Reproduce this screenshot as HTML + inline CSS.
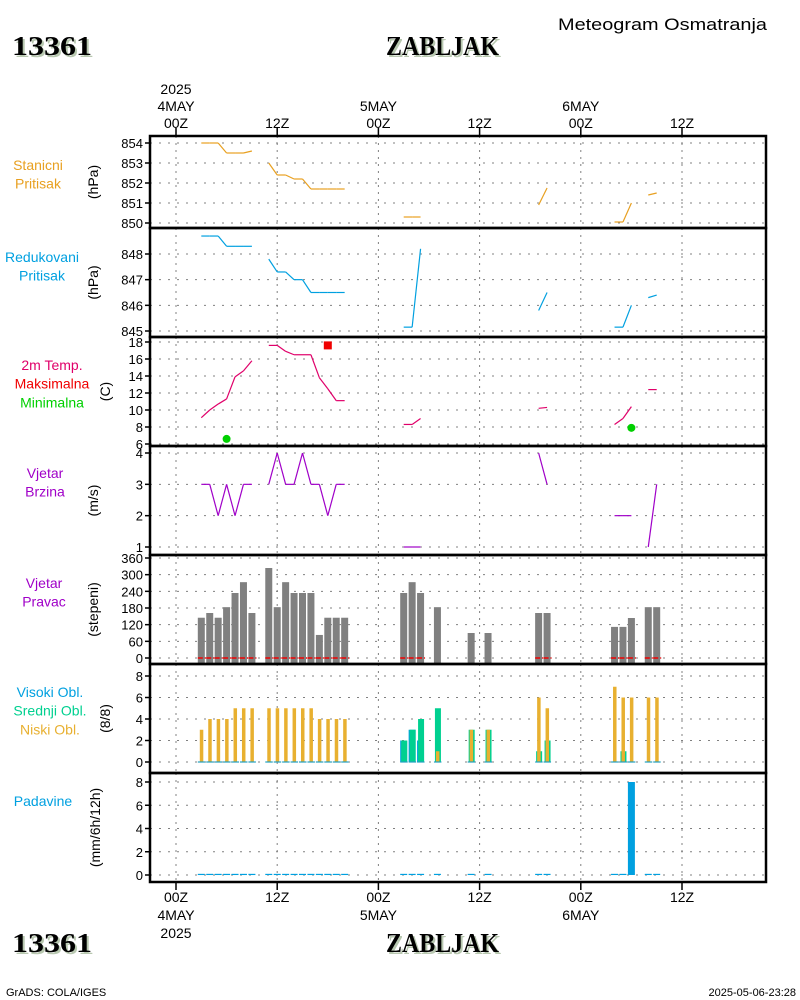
<!DOCTYPE html>
<html><head><meta charset="utf-8"><style>
body{margin:0;background:#fff;}
svg{display:block;font-family:"Liberation Sans",sans-serif;}
</style></head><body>
<svg id="chart" width="800" height="1000" viewBox="0 0 800 1000" xmlns="http://www.w3.org/2000/svg">
<g id="static">
<text x="14" y="57" font-family="Liberation Serif" font-weight="bold" font-size="27" fill="#b8c8b0" textLength="80" lengthAdjust="spacingAndGlyphs">13361</text>
<text x="12" y="55" font-family="Liberation Serif" font-weight="bold" font-size="27" fill="#000" textLength="80" lengthAdjust="spacingAndGlyphs">13361</text>
<text x="388" y="57" font-family="Liberation Serif" font-weight="bold" font-size="27" fill="#b8c8b0" textLength="113" lengthAdjust="spacingAndGlyphs">ZABLJAK</text>
<text x="386" y="55" font-family="Liberation Serif" font-weight="bold" font-size="27" fill="#000" textLength="113" lengthAdjust="spacingAndGlyphs">ZABLJAK</text>
<text x="558" y="30" font-size="17" fill="#000" textLength="209" lengthAdjust="spacingAndGlyphs">Meteogram Osmatranja</text>
<text x="14" y="954" font-family="Liberation Serif" font-weight="bold" font-size="27" fill="#b8c8b0" textLength="80" lengthAdjust="spacingAndGlyphs">13361</text>
<text x="12" y="952" font-family="Liberation Serif" font-weight="bold" font-size="27" fill="#000" textLength="80" lengthAdjust="spacingAndGlyphs">13361</text>
<text x="388" y="954" font-family="Liberation Serif" font-weight="bold" font-size="27" fill="#b8c8b0" textLength="113" lengthAdjust="spacingAndGlyphs">ZABLJAK</text>
<text x="386" y="952" font-family="Liberation Serif" font-weight="bold" font-size="27" fill="#000" textLength="113" lengthAdjust="spacingAndGlyphs">ZABLJAK</text>
<text x="6" y="996" font-size="11" fill="#000">GrADS: COLA/IGES</text>
<text x="796" y="996" text-anchor="end" font-size="11" fill="#000">2025-05-06-23:28</text>
</g>
<g id="plot"></g>
</svg>
<script>
const hours=[3,4,5,6,7,8,9,11,12,13,14,15,16,17,18,19,20,27,28,29,31,35,37,43,44,52,53,54,56,57];
const N=null;
const stationP=[854,854,854,853.5,853.5,853.5,853.6,853,852.4,852.4,852.2,852.2,851.7,851.7,851.7,851.7,851.7,850.3,850.3,850.3,N,N,N,850.9,851.75,850.05,850.05,851,851.4,851.5];
const reducedP=[848.7,848.7,848.7,848.3,848.3,848.3,848.3,847.8,847.3,847.3,847.0,847.0,846.5,846.5,846.5,846.5,846.5,845.15,845.15,848.2,N,N,N,845.8,846.5,845.15,845.15,846,846.3,846.4];
const temp=[9.1,10.0,10.7,11.3,13.9,14.6,15.8,17.6,17.6,16.9,16.5,16.5,16.5,13.8,12.5,11.1,11.1,8.3,8.3,9.0,N,N,N,10.2,10.3,8.3,9.0,10.4,12.4,12.4];
const tmaxHours=[18];const tmaxVals=[17.6];
const tminHours=[6,54];const tminVals=[6.6,7.9];
const windSpd=[3,3,2,3,2,3,3,3,4,3,3,4,3,3,2,3,3,1,1,1,N,N,N,4,3,2,2,2,1,3];
const windDir=[145,162,145,183,234,273,162,324,183,273,234,234,234,83,145,145,145,234,273,234,183,90,90,162,162,112,112,144,183,183];
const lowCl=[3,4,4,4,5,5,5,5,5,5,5,5,5,4,4,4,4,0,0,0,1,3,3,6,5,7,6,6,6,6];
const midCl=[0,0,0,0,0,0,0,0,0,0,0,0,0,0,0,0,0,2,3,4,5,3,3,1,2,0,1,0,0,0];
const highCl=[0,0,0,0,0,0,0,0,0,0,0,0,0,0,0,0,0,2,3,2,0,0,0,0,0,0,0,0,0,0];
const precip=[0.1,0.1,0.1,0.1,0.1,0.1,0.1,0.1,0.1,0.1,0.1,0.1,0.1,0.1,0.1,0.1,0.1,0.1,0.1,0.1,0.1,0.1,0.1,0.1,0.1,0.1,0.1,8,0.1,0.1];
const timeTicks=[0,12,24,36,48,60];
const timeLabels=["00Z","12Z","00Z","12Z","00Z","12Z"];
const dayLabels=["4MAY","","5MAY","","6MAY",""];

const SVGNS="http://www.w3.org/2000/svg";
const plot=document.getElementById('plot');
const X0=150,X1=766;
function xs(h){return 176+h*(101.2/12);}
function mk(tag,at,parent){const e=document.createElementNS(SVGNS,tag);for(const k in at)e.setAttribute(k,at[k]);(parent||plot).appendChild(e);return e;}
function txt(s,at){const e=mk('text',at);e.textContent=s;return e;}

const panels=[
 {name:'station-pressure',top:136,bot:228,v0:850,y0:223,v1:854,y1:143,ticks:[850,851,852,853,854],unit:'(hPa)',ux:98,lx:38,ly:170,labels:[['Stanicni','#e8a020'],['Pritisak','#e8a020']]},
 {name:'reduced-pressure',top:228,bot:337,v0:845,y0:331,v1:848,y1:254,ticks:[845,846,847,848],unit:'(hPa)',ux:98,lx:42,ly:262,labels:[['Redukovani','#00a0e0'],['Pritisak','#00a0e0']]},
 {name:'temperature',top:337,bot:446,v0:6,y0:444,v1:18,y1:342,ticks:[6,8,10,12,14,16,18],unit:'(C)',ux:110,lx:52,ly:370,labels:[['2m Temp.','#e0006a'],['Maksimalna','#f00000'],['Minimalna','#00d000']]},
 {name:'wind-speed',top:446,bot:555,v0:1,y0:547,v1:4,y1:453,ticks:[1,2,3,4],unit:'(m/s)',ux:98,lx:45,ly:478,labels:[['Vjetar','#a000c8'],['Brzina','#a000c8']]},
 {name:'wind-direction',top:555,bot:664,v0:0,y0:658,v1:360,y1:558,ticks:[0,60,120,180,240,300,360],unit:'(stepeni)',ux:98,lx:44,ly:588,labels:[['Vjetar','#a000c8'],['Pravac','#a000c8']]},
 {name:'cloud-cover',top:664,bot:773,v0:0,y0:762,v1:8,y1:676,ticks:[0,2,4,6,8],unit:'(8/8)',ux:110,lx:50,ly:697,labels:[['Visoki Obl.','#00a0e0'],['Srednji Obl.','#00d090'],['Niski Obl.','#e8b030']]},
 {name:'precipitation',top:773,bot:882,v0:0,y0:875,v1:8,y1:782,ticks:[0,2,4,6,8],unit:'(mm/6h/12h)',ux:100,lx:43,ly:806,labels:[['Padavine','#00a0e0']]}
];
panels.forEach(p=>{p.ys=v=>p.y0+(v-p.v0)*(p.y1-p.y0)/(p.v1-p.v0);});

panels.forEach((p,i)=>{
  const g=mk('g',{});
  
  
  timeTicks.forEach(t=>{const l=mk('line',{x1:xs(t),x2:xs(t),y1:p.top,y2:p.bot,stroke:'#808080','stroke-width':1,'stroke-dasharray':'2,5'},g);});
  p.ticks.forEach(v=>{const y=p.ys(v);
    const l=mk('line',{x1:X0,x2:X1,y1:y,y2:y,stroke:'#808080','stroke-width':1,'stroke-dasharray':'2,7'},g);
    mk('line',{x1:X0-5,x2:X0,y1:y,y2:y,stroke:'#000','stroke-width':1.5},g);
    const t=txt(String(v),{x:143,y:y+5,'text-anchor':'end','font-size':13,fill:'#000'});});
  const mid=(p.top+p.bot)/2;
  const u=txt(p.unit,{x:0,y:0,'font-size':14,fill:'#000','text-anchor':'middle',transform:`translate(${p.ux},${mid}) rotate(-90)`});
  
  p.labels.forEach((lb,k)=>{
    const t=txt(lb[0],{x:p.lx,y:p.ly+k*18.7,'text-anchor':'middle','font-size':14,fill:lb[1]});
    });
});
function drawLine(p,vals,color,name){
  for(let i=0;i<hours.length;i++){
    if(vals[i]==null)continue;
    if(i+1<hours.length&&vals[i+1]!=null&&hours[i+1]-hours[i]==1){
      const l=mk('line',{x1:xs(hours[i]),y1:p.ys(vals[i]),x2:xs(hours[i+1]),y2:p.ys(vals[i+1]),stroke:color,'stroke-width':1.2});
      
    }
  }
}
drawLine(panels[0],stationP,'#e8a020','station-pressure-line');
drawLine(panels[1],reducedP,'#00a0e0','reduced-pressure-line');
drawLine(panels[2],temp,'#e0006a','temperature-line');
drawLine(panels[3],windSpd,'#a000c8','wind-speed-line');
tmaxHours.forEach((h,i)=>{const r=mk('rect',{x:xs(h)-4,y:panels[2].ys(tmaxVals[i])-4,width:8,height:8,fill:'#f00000'});});
tminHours.forEach((h,i)=>{const c=mk('circle',{cx:xs(h),cy:panels[2].ys(tminVals[i]),r:4,fill:'#00d000'});});
const pd=panels[4];
hours.forEach((h,i)=>{const y=pd.ys(windDir[i]);const r=mk('rect',{x:xs(h)-3.5,y:y,width:7,height:pd.ys(0)-y+5,fill:'#808080'});});
hours.forEach((h,i)=>{if(windSpd[i]==null)return;const l=mk('line',{x1:xs(h)-3.5,x2:xs(h)+4.5,y1:pd.ys(0),y2:pd.ys(0),stroke:'#f00000','stroke-width':1.5,'stroke-dasharray':'5,2'});});
const pc=panels[5];
hours.forEach((h,i)=>{const x=xs(h);
  if(highCl[i]>0){const y=pc.ys(highCl[i]);const r=mk('rect',{x:x-3.5,y:y,width:7,height:pc.ys(0)-y,fill:'#00a0e0'});}
  if(midCl[i]>0){const y=pc.ys(midCl[i]);const r=mk('rect',{x:x-2.5,y:y,width:6,height:pc.ys(0)-y,fill:'#00d090'});}
  if(lowCl[i]>0){const y=pc.ys(lowCl[i]);const r=mk('rect',{x:x-1.5,y:y,width:3.5,height:pc.ys(0)-y,fill:'#e8b030'});}
  const b=mk('line',{x1:x-3.5,x2:x+4,y1:pc.ys(0),y2:pc.ys(0),stroke:'#20a0c0','stroke-width':1.2});
});
const pp=panels[6];
hours.forEach((h,i)=>{const y=pp.ys(precip[i]);const r=mk('rect',{x:xs(h)-3.5,y:y,width:7,height:Math.max(pp.ys(0)-y,1.2),fill:'#00a0e0'});});
panels.forEach(p=>{const r=mk('rect',{x:X0,y:p.top,width:X1-X0,height:p.bot-p.top,fill:'none',stroke:'#000','stroke-width':2.5});});
timeTicks.forEach((t,i)=>{const x=xs(t);
  mk('line',{x1:x,x2:x,y1:128,y2:136,stroke:'#000','stroke-width':1.5});
  mk('line',{x1:x,x2:x,y1:882,y2:890,stroke:'#000','stroke-width':1.5});
  let e=txt(timeLabels[i],{x:x,y:128,'text-anchor':'middle','font-size':14,fill:'#000'});
  e=txt(timeLabels[i],{x:x,y:902,'text-anchor':'middle','font-size':14,fill:'#000'});
  if(dayLabels[i]){e=txt(dayLabels[i],{x:x,y:111,'text-anchor':'middle','font-size':14,fill:'#000'});
   e=txt(dayLabels[i],{x:x,y:920,'text-anchor':'middle','font-size':14,fill:'#000'});}
});
let e=txt('2025',{x:xs(0),y:94,'text-anchor':'middle','font-size':14,fill:'#000'});
e=txt('2025',{x:xs(0),y:938,'text-anchor':'middle','font-size':14,fill:'#000'});
</script>
</body></html>
